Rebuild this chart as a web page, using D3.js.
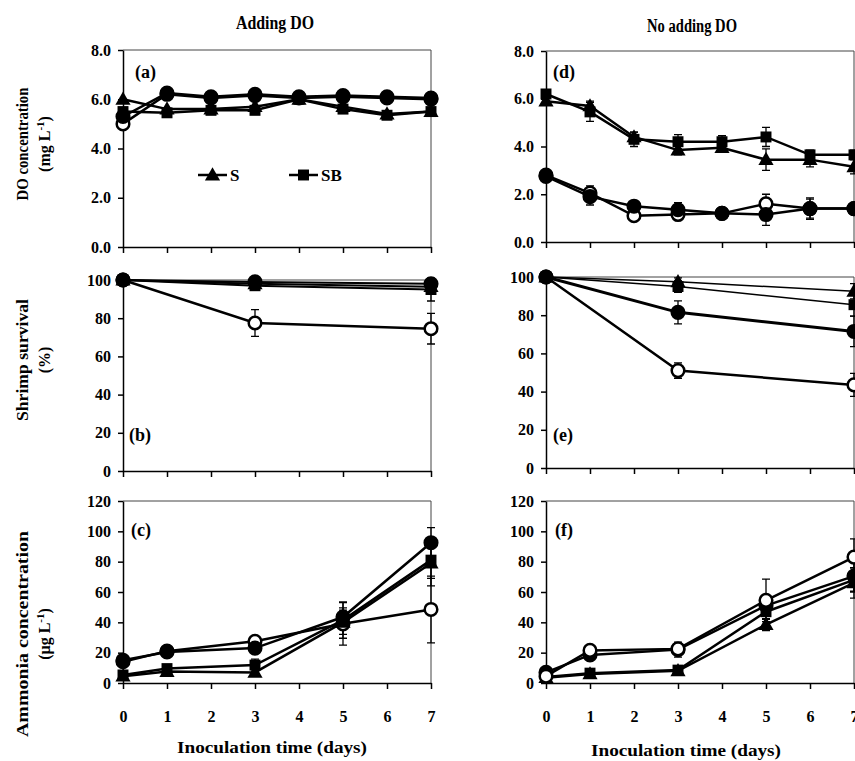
<!DOCTYPE html>
<html>
<head>
<meta charset="utf-8">
<script src="https://cdn.jsdelivr.net/npm/d3@7"></script>
<style>
  body { margin: 0; background: #fff; }
  svg { display: block; }
  text { font-family: 'Liberation Serif', 'Times New Roman', serif; fill: #000; }
</style>
</head>
<body>
<div id="chart"></div>
<script>
// x values
const doDays = [0, 1, 2, 3, 4, 5, 6, 7];
const survDays = [0, 3, 7];
const nh3Days = [0, 1, 3, 5, 7];
const dayTicks = [0, 1, 2, 3, 4, 5, 6, 7];

// (a) DO, adding DO
const aS = [6.0, 5.6, 5.6, 5.7, 6.0, 5.7, 5.4, 5.5];
const aSB = [5.5, 5.45, 5.55, 5.55, 6.0, 5.6, 5.35, 5.5];
const aFill = [5.3, 6.25, 6.1, 6.2, 6.1, 6.15, 6.1, 6.05];
const aOpen = [5.0, 6.2, 6.05, 6.15, 6.05, 6.1, 6.05, 6.0];

// (d) DO, no adding DO
const dS = [5.9, 5.7, 4.4, 3.85, 3.95, 3.45, 3.45, 3.15];
const dSB = [6.2, 5.45, 4.3, 4.2, 4.2, 4.4, 3.65, 3.65];
const dFill = [2.75, 1.9, 1.5, 1.35, 1.2, 1.15, 1.4, 1.4];
const dOpen = [2.8, 2.05, 1.1, 1.15, 1.2, 1.6, 1.4, 1.4];
const dSErr = [0.15, 0.2, 0.2, 0.2, 0.15, 0.45, 0.3, 0.3];
const dSBErr = [0.1, 0.4, 0.3, 0.3, 0.25, 0.4, 0.2, 0.2];
const dFillErr = [0.1, 0.35, 0.2, 0.3, 0.1, 0.45, 0.45, 0.2];
const dOpenErr = [0.1, 0.3, 0.2, 0.2, 0.1, 0.4, 0.4, 0.2];

// (b) survival, adding DO
const bS = [100, 98, 96.5];
const bSB = [100, 97, 95];
const bFill = [100, 99, 98];
const bOpen = [100, 77.5, 74.5];
const bSErr = [0, 1, 4];
const bSBErr = [0, 2, 6];
const bFillErr = [0, 1, 1];
const bOpenErr = [0, 7, 8];

// (e) survival, no adding DO
const eS = [100, 97.5, 92.5];
const eSB = [100, 95, 85.5];
const eFill = [100, 81.5, 71.5];
const eOpen = [100, 51, 43.5];
const eSErr = [0, 2, 4];
const eSBErr = [0, 3, 6];
const eFillErr = [0, 6, 8];
const eOpenErr = [0, 4, 6];

// (c) ammonia, adding DO
const cS = [4.5, 7.5, 7, 40, 79];
const cSB = [5.3, 9.5, 11.8, 41.5, 81];
const cFill = [15, 20.5, 23, 43.5, 92.5];
const cOpen = [14, 21, 27.5, 39, 48.5];
const cSErr = [1, 1, 2, 8, 15];
const cSBErr = [1, 1, 4, 12, 12];
const cFillErr = [1, 1, 2, 6, 10];
const cOpenErr = [1, 1, 2, 14, 22];

// (f) ammonia, no adding DO
const fS = [3.5, 6, 8, 38.5, 66];
const fSB = [4, 6.5, 8.5, 47, 68];
const fFill = [7, 18.5, 22, 51, 70.5];
const fOpen = [4.5, 21.5, 22.5, 54.5, 83];
const fSErr = [1, 1, 2, 4, 10];
const fSBErr = [1, 1, 2, 5, 8];
const fFillErr = [1, 1, 5, 6, 10];
const fOpenErr = [1, 1, 3, 14, 12];

const doTicks = [0, 2, 4, 6, 8];
const survTicks = [0, 20, 40, 60, 80, 100];
const nh3Ticks = [0, 20, 40, 60, 80, 100, 120];
const legendKeys = ['S', 'SB'];

const width = 855;
const height = 761;

const svg = d3.select('#chart')
    .append('svg')
    .attr('width', width)
    .attr('height', height);

function makeSeries(days, vals, errs, type, lw) {
    const points = days.map((d, i) => ({ day: d, v: vals[i], err: errs ? errs[i] : 0 }));
    return { type, lw, points };
}

const leftX = [123, 431];
const rightX = [546, 854];

const panels = [
    { label: '(a)', xr: leftX, yr: [247, 50], domain: [0, 8], ticks: doTicks, fmt: (d) => d.toFixed(1),
      labelAt: [135, 78], xLabels: false,
      series: [
        makeSeries(doDays, aOpen, null, 'open', 2.5),
        makeSeries(doDays, aFill, null, 'fill', 2.5),
        makeSeries(doDays, aSB, null, 'sq', 2.5),
        makeSeries(doDays, aS, null, 'tri', 2.5),
      ] },
    { label: '(d)', xr: rightX, yr: [242, 51], domain: [0, 8], ticks: doTicks, fmt: (d) => d.toFixed(1),
      labelAt: [553, 78], xLabels: false,
      series: [
        makeSeries(doDays, dOpen, dOpenErr, 'open', 2.5),
        makeSeries(doDays, dFill, dFillErr, 'fill', 2.5),
        makeSeries(doDays, dS, dSErr, 'tri', 2.5),
        makeSeries(doDays, dSB, dSBErr, 'sq', 2.5),
      ] },
    { label: '(b)', xr: leftX, yr: [471, 280], domain: [0, 100], ticks: survTicks, fmt: (d) => d,
      labelAt: [129, 441], xLabels: false,
      series: [
        makeSeries(survDays, bOpen, bOpenErr, 'open', 2.5),
        makeSeries(survDays, bSB, bSBErr, 'sq', 2),
        makeSeries(survDays, bS, bSErr, 'tri', 2),
        makeSeries(survDays, bFill, bFillErr, 'fill', 2),
      ] },
    { label: '(e)', xr: rightX, yr: [468, 277], domain: [0, 100], ticks: survTicks, fmt: (d) => d,
      labelAt: [553, 441], xLabels: false,
      series: [
        makeSeries(survDays, eOpen, eOpenErr, 'open', 2.5),
        makeSeries(survDays, eFill, eFillErr, 'fill', 3),
        makeSeries(survDays, eSB, eSBErr, 'sq', 1.5),
        makeSeries(survDays, eS, eSErr, 'tri', 1.5),
      ] },
    { label: '(c)', xr: leftX, yr: [683, 501], domain: [0, 120], ticks: nh3Ticks, fmt: (d) => d,
      labelAt: [131, 536], xLabels: true,
      series: [
        makeSeries(nh3Days, cOpen, cOpenErr, 'open', 2.5),
        makeSeries(nh3Days, cS, cSErr, 'tri', 2.5),
        makeSeries(nh3Days, cSB, cSBErr, 'sq', 2.5),
        makeSeries(nh3Days, cFill, cFillErr, 'fill', 2.5),
      ] },
    { label: '(f)', xr: rightX, yr: [683, 501], domain: [0, 120], ticks: nh3Ticks, fmt: (d) => d,
      labelAt: [555, 536], xLabels: true,
      series: [
        makeSeries(nh3Days, fS, fSErr, 'tri', 2.5),
        makeSeries(nh3Days, fSB, fSBErr, 'sq', 2.5),
        makeSeries(nh3Days, fFill, fFillErr, 'fill', 2.5),
        makeSeries(nh3Days, fOpen, fOpenErr, 'open', 2.5),
      ] },
];

function drawMarker(g, type, x, y) {
    if (type === 'open' || type === 'fill') {
        g.append('circle')
            .attr('cx', x).attr('cy', y).attr('r', 6.3)
            .attr('fill', type === 'open' ? '#fff' : '#000')
            .attr('stroke', '#000')
            .attr('stroke-width', 2.5);
    } else {
        const sym = d3.symbol()
            .type(type === 'sq' ? d3.symbolSquare : d3.symbolTriangle)
            .size(type === 'sq' ? 120 : 100);
        g.append('path')
            .attr('d', sym())
            .attr('transform', `translate(${x},${y + (type === 'tri' ? 1 : 0)})`)
            .attr('fill', '#000');
    }
}

function drawPanel(p) {
    const x = d3.scaleLinear().domain([0, 7]).range(p.xr);
    const y = d3.scaleLinear().domain(p.domain).range(p.yr);
    const g = svg.append('g');

    // thin plot frame (top + right)
    g.append('path')
        .attr('d', `M${p.xr[0]},${p.yr[1]}H${p.xr[1]}V${p.yr[0]}`)
        .attr('fill', 'none')
        .attr('stroke', '#444')
        .attr('stroke-width', 1);

    // y axis
    const yAxis = g.append('g')
        .attr('transform', `translate(${p.xr[0]},0)`)
        .call(d3.axisLeft(y).tickValues(p.ticks).tickFormat(p.fmt).tickSize(5).tickSizeOuter(0).tickPadding(7));
    yAxis.selectAll('path, line').attr('stroke', '#000').attr('stroke-width', 1.5);
    yAxis.selectAll('text')
        .style('font-family', "'Liberation Serif', serif")
        .style('font-weight', 'bold')
        .style('font-size', '16px')
        .attr('fill', '#000');

    // x axis
    const xAxis = g.append('g')
        .attr('transform', `translate(0,${p.yr[0]})`)
        .call(d3.axisBottom(x).tickValues(dayTicks)
            .tickFormat(p.xLabels ? (d) => d : '')
            .tickSize(6).tickSizeOuter(0).tickPadding(22));
    xAxis.selectAll('path, line').attr('stroke', '#000').attr('stroke-width', 1.5);
    xAxis.selectAll('text')
        .style('font-family', "'Liberation Serif', serif")
        .style('font-weight', 'bold')
        .style('font-size', '16px')
        .attr('fill', '#000');

    // lines
    const line = d3.line().x((d) => x(d.day)).y((d) => y(d.v));
    p.series.forEach((s) => {
        g.append('path')
            .datum(s.points)
            .attr('d', line)
            .attr('fill', 'none')
            .attr('stroke', '#000')
            .attr('stroke-width', s.lw);
    });

    // error bars (only the ones that stick out of the markers)
    const minErr = (p.domain[1] - p.domain[0]) / 100;
    p.series.forEach((s) => {
        s.points.filter((d) => d.err > minErr).forEach((d) => {
            const cx = x(d.day);
            const y0 = y(d.v - d.err);
            const y1 = y(d.v + d.err);
            g.append('path')
                .attr('d', `M${cx},${y0}V${y1}M${cx - 4},${y0}H${cx + 4}M${cx - 4},${y1}H${cx + 4}`)
                .attr('stroke', '#000')
                .attr('stroke-width', 1.3)
                .attr('fill', 'none');
        });
    });

    // markers
    p.series.forEach((s) => {
        s.points.forEach((d) => drawMarker(g, s.type, x(d.day), y(d.v)));
    });

    // panel letter
    g.append('text')
        .attr('x', p.labelAt[0])
        .attr('y', p.labelAt[1])
        .style('font-size', '18px')
        .style('font-weight', 'bold')
        .text(p.label);
}

panels.forEach(drawPanel);

// legend in panel (a)
const leg = svg.append('g');
[[198, 227, 'tri'], [289, 318, 'sq']].forEach(([x0, x1, type], i) => {
    leg.append('line')
        .attr('x1', x0).attr('x2', x1).attr('y1', 175).attr('y2', 175)
        .attr('stroke', '#000').attr('stroke-width', 2.5);
    drawMarker(leg, type, (x0 + x1) / 2, 175);
    leg.append('text')
        .attr('x', x1 + 3)
        .attr('y', 181)
        .style('font-size', '17px')
        .style('font-weight', 'bold')
        .text(legendKeys[i]);
});

// column titles
svg.append('text')
    .attr('x', 275).attr('y', 29)
    .attr('text-anchor', 'middle')
    .attr('textLength', 78).attr('lengthAdjust', 'spacingAndGlyphs')
    .style('font-size', '18px')
    .style('font-weight', 'bold')
    .text('Adding DO');
svg.append('text')
    .attr('x', 692).attr('y', 32)
    .attr('text-anchor', 'middle')
    .attr('textLength', 90).attr('lengthAdjust', 'spacingAndGlyphs')
    .style('font-size', '18px')
    .style('font-weight', 'bold')
    .text('No adding DO');

// x axis titles
[[272, 753], [686, 756]].forEach(([cx, cy]) => {
    svg.append('text')
        .attr('x', cx).attr('y', cy)
        .attr('text-anchor', 'middle')
        .attr('textLength', 190).attr('lengthAdjust', 'spacingAndGlyphs')
        .style('font-size', '17px')
        .style('font-weight', 'bold')
        .text('Inoculation time (days)');
});

// y axis titles (two lines, rotated)
function yTitle(cy, line1, len1, line2Parts) {
    const g = svg.append('g').attr('transform', `translate(0,${cy}) rotate(-90)`);
    g.append('text')
        .attr('x', 0).attr('y', 28)
        .attr('text-anchor', 'middle')
        .attr('textLength', len1).attr('lengthAdjust', 'spacingAndGlyphs')
        .style('font-size', '17px')
        .style('font-weight', 'bold')
        .text(line1);
    const t = g.append('text')
        .attr('x', 0).attr('y', 50)
        .attr('text-anchor', 'middle')
        .style('font-size', '16px')
        .style('font-weight', 'bold');
    line2Parts.forEach(([s, sup]) => {
        t.append('tspan')
            .attr('baseline-shift', sup ? 'super' : null)
            .style('font-size', sup ? '11px' : null)
            .text(s);
    });
}

yTitle(144, 'DO concentration', 113, [['(mg L'], ['-1', true], [')']]);
yTitle(360, 'Shrimp survival', 122, [['(%)']]);
yTitle(634, 'Ammonia concentration', 206, [['(\u00b5g L'], ['-1', true], [')']]);
</script>
</body>
</html>
